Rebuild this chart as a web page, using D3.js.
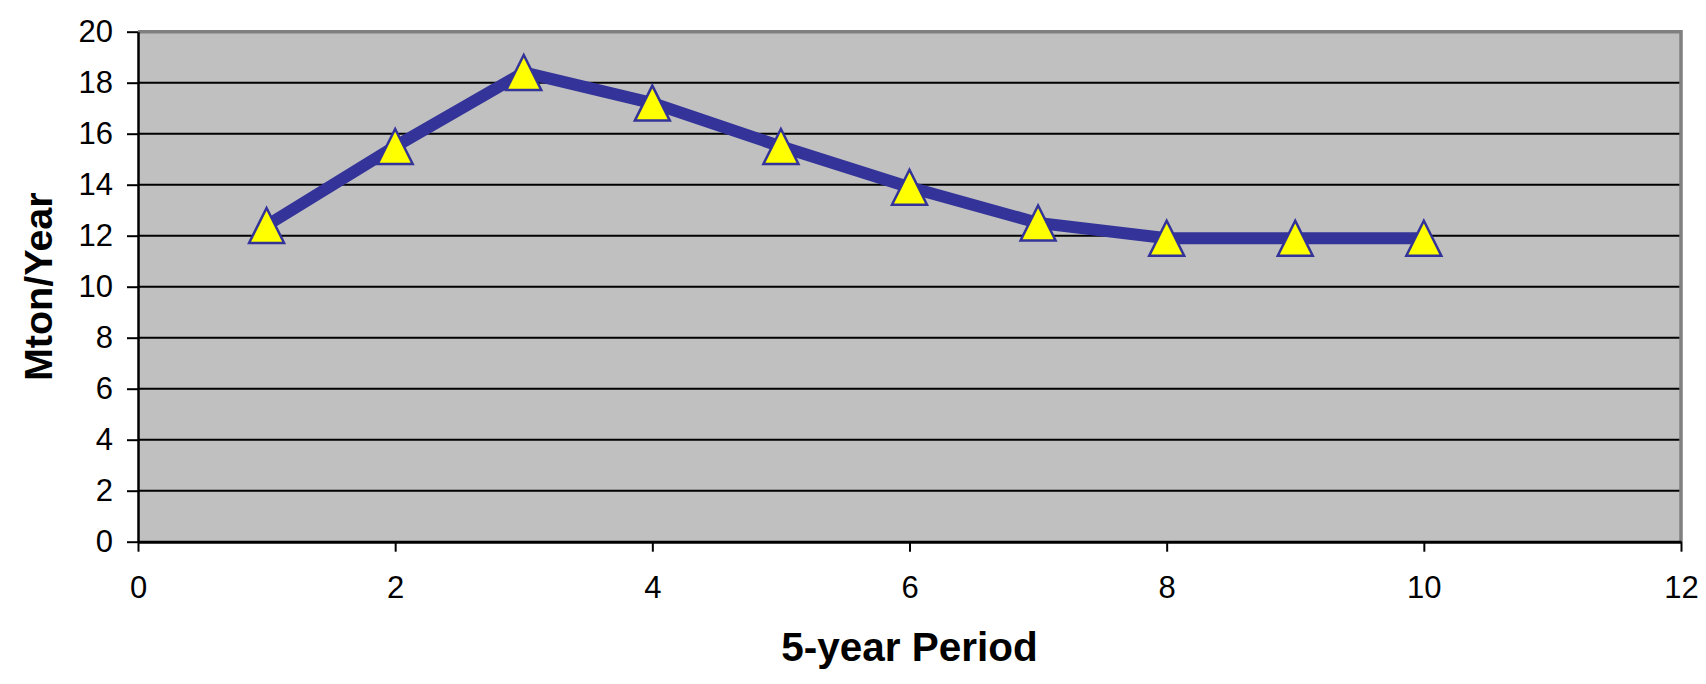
<!DOCTYPE html>
<html>
<head>
<meta charset="utf-8">
<script src="https://cdn.jsdelivr.net/npm/d3@7"></script>
<style>
  html, body { margin: 0; padding: 0; background: #ffffff; }
  svg { display: block; }
  text { font-family: "Liberation Sans", Arial, sans-serif; fill: #000; }
</style>
</head>
<body>
<svg id="chart" width="1706" height="684"></svg>
<script>
// Output per 5-year period (Mton/Year)
const periods = [1, 2, 3, 4, 5, 6, 7, 8, 9, 10];
const output = [12.4, 15.5, 18.4, 17.2, 15.5, 13.9, 12.5, 11.9, 11.9, 11.9];
const xTicks = [0, 2, 4, 6, 8, 10, 12];
const yTicks = [0, 2, 4, 6, 8, 10, 12, 14, 16, 18, 20];
const xTitle = "5-year Period";
const yTitle = "Mton/Year";

const W = 1706, H = 684;
const plot = { left: 138, right: 1681, top: 31.7, bottom: 541.7 };

const svg = d3.select("#chart");

const x = d3.scaleLinear().domain([0, 12]).range([plot.left, plot.right]);
const y = d3.scaleLinear().domain([0, 20]).range([plot.bottom, plot.top]);

// plot area background
svg.append("rect")
  .attr("x", plot.left).attr("y", plot.top)
  .attr("width", plot.right - plot.left)
  .attr("height", plot.bottom - plot.top)
  .attr("fill", "#c0c0c0");

// horizontal gridlines
svg.append("g")
  .selectAll("line")
  .data(yTicks.filter(v => v > 0 && v < 20))
  .join("line")
  .attr("x1", plot.left).attr("x2", plot.right)
  .attr("y1", d => y(d)).attr("y2", d => y(d))
  .attr("stroke", "#000").attr("stroke-width", 2);

// grey frame on top and right
svg.append("path")
  .attr("d", `M${plot.left},${y(20)} H${x(12)} V${plot.bottom}`)
  .attr("fill", "none")
  .attr("stroke", "#808080")
  .attr("stroke-width", 3.5);

// y axis
const yAxis = svg.append("g")
  .attr("transform", `translate(${plot.left},0)`)
  .call(d3.axisLeft(y).tickValues(yTicks).tickSize(11).tickSizeOuter(0).tickPadding(14));
yAxis.select(".domain").attr("stroke", "#000").attr("stroke-width", 2.5);
yAxis.selectAll(".tick line").attr("stroke", "#000").attr("stroke-width", 2);
yAxis.selectAll(".tick text")
  .attr("font-size", 31)
  .style("font-family", '"Liberation Sans", Arial, sans-serif')
  .attr("fill", "#000");

// x axis
const xAxis = svg.append("g")
  .attr("transform", `translate(0,${plot.bottom})`)
  .call(d3.axisBottom(x).tickValues(xTicks).tickSize(10).tickSizeOuter(0));
xAxis.select(".domain").attr("stroke", "#000").attr("stroke-width", 3);
xAxis.selectAll(".tick line").attr("stroke", "#000").attr("stroke-width", 2);
xAxis.selectAll(".tick text")
  .attr("font-size", 31)
  .attr("y", 45).attr("dy", "0.35em")
  .style("font-family", '"Liberation Sans", Arial, sans-serif')
  .attr("fill", "#000");

// series line
const pts = periods.map((p, i) => [p, output[i]]);
svg.append("path")
  .datum(pts)
  .attr("d", d3.line().x(d => x(d[0])).y(d => y(d[1])))
  .attr("fill", "none")
  .attr("stroke", "#333399")
  .attr("stroke-width", 12)
  .attr("stroke-linejoin", "miter");

// triangle markers
const mw = 35, mh = 35;
svg.append("g")
  .selectAll("path")
  .data(pts)
  .join("path")
  .attr("transform", d => `translate(${x(d[0])},${y(d[1])})`)
  .attr("d", `M0,${-mh / 2}L${mw / 2},${mh / 2}L${-mw / 2},${mh / 2}Z`)
  .attr("fill", "#ffff00")
  .attr("stroke", "#333399")
  .attr("stroke-width", 2.5)
  .attr("stroke-linejoin", "miter");

// axis titles
svg.append("text")
  .attr("x", (plot.left + plot.right) / 2)
  .attr("y", 661)
  .attr("text-anchor", "middle")
  .attr("font-size", 40.5)
  .attr("font-weight", "bold")
  .text(xTitle);

svg.append("text")
  .attr("transform", `translate(51.7,${(plot.top + plot.bottom) / 2}) rotate(-90)`)
  .attr("text-anchor", "middle")
  .attr("font-size", 39.5)
  .attr("font-weight", "bold")
  .text(yTitle);
</script>
</body>
</html>
